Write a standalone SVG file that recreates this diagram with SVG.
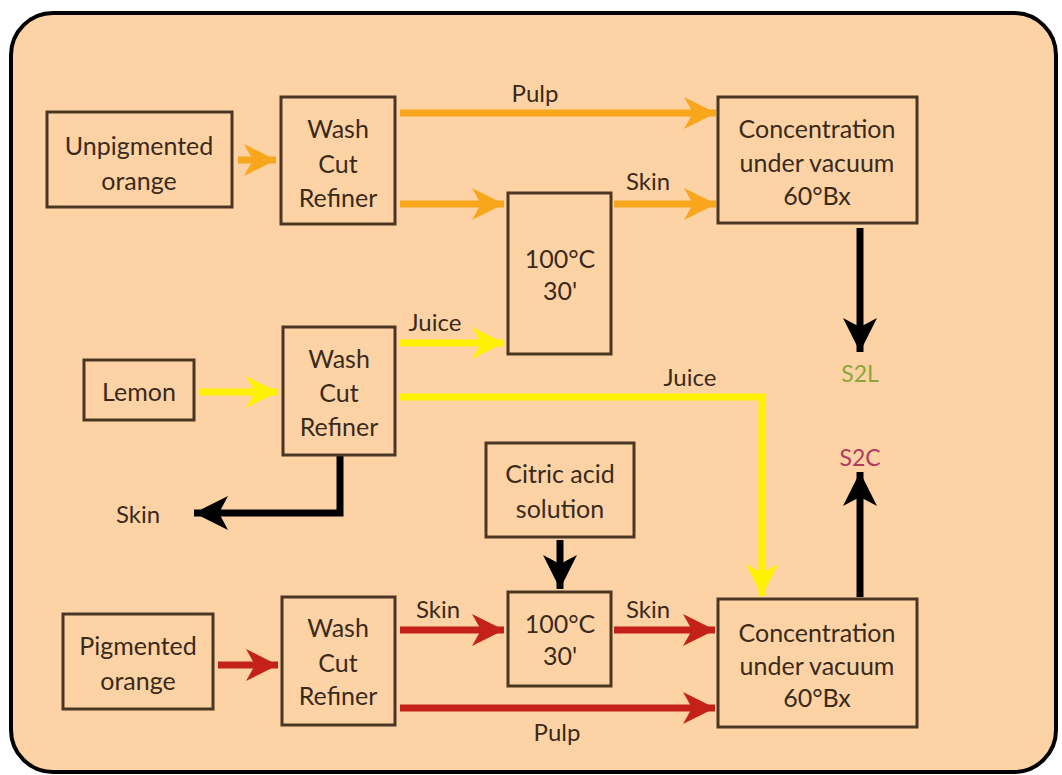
<svg xmlns="http://www.w3.org/2000/svg" width="1062" height="775" viewBox="0 0 1062 775">
<defs>
<style>
.box{fill:none;stroke:#4a3622;stroke-width:3}
.t{font-family:Lato,"Open Sans",sans-serif;font-size:25px;fill:#3a2a1a;text-anchor:middle;dominant-baseline:central}
.l{font-family:Lato,"Open Sans",sans-serif;font-size:24px;fill:#3a2a1a;text-anchor:middle;dominant-baseline:central}
.or{stroke:#f8a61c;stroke-width:7;fill:none}
.ye{stroke:#fff200;stroke-width:7;fill:none}
.rd{stroke:#c42118;stroke-width:7;fill:none}
.bk{stroke:#000;stroke-width:7;fill:none}
</style>
<marker id="mo" viewBox="0 0 32 32" refX="32" refY="16" markerWidth="32" markerHeight="32" markerUnits="userSpaceOnUse" orient="auto"><path d="M0,0 L32,16 L0,32 L9,16 Z" fill="#f8a61c"/></marker>
<marker id="my" viewBox="0 0 32 32" refX="32" refY="16" markerWidth="32" markerHeight="32" markerUnits="userSpaceOnUse" orient="auto"><path d="M0,0 L32,16 L0,32 L9,16 Z" fill="#fff200"/></marker>
<marker id="mr" viewBox="0 0 32 32" refX="32" refY="16" markerWidth="32" markerHeight="32" markerUnits="userSpaceOnUse" orient="auto"><path d="M0,0 L32,16 L0,32 L9,16 Z" fill="#c42118"/></marker>
<marker id="mb" viewBox="0 0 34 34" refX="34" refY="17" markerWidth="34" markerHeight="34" markerUnits="userSpaceOnUse" orient="auto"><path d="M0,0 L34,17 L0,34 L9,17 Z" fill="#000"/></marker>
</defs>
<rect x="11" y="13" width="1045" height="759" rx="42" ry="42" fill="#fdd3a6" stroke="#000" stroke-width="4"/>
<g id="connectors">
<line class="or" x1="238" y1="160" x2="276" y2="160" marker-end="url(#mo)"/>
<line class="or" x1="400" y1="113" x2="716" y2="113" marker-end="url(#mo)"/>
<line class="or" x1="400" y1="204" x2="504" y2="204" marker-end="url(#mo)"/>
<line class="or" x1="614" y1="204" x2="716" y2="204" marker-end="url(#mo)"/>
<line class="bk" x1="860" y1="228" x2="860" y2="352" marker-end="url(#mb)"/>
<line class="bk" x1="860" y1="597" x2="860" y2="472" marker-end="url(#mb)"/>
<line class="ye" x1="200" y1="392" x2="278" y2="392" marker-end="url(#my)"/>
<line class="ye" x1="400" y1="343" x2="504" y2="343" marker-end="url(#my)"/>
<polyline class="ye" points="400,397 762,397 762,596" marker-end="url(#my)"/>
<polyline class="bk" points="340,455 340,513 194,513" marker-end="url(#mb)"/>
<line class="bk" x1="560" y1="540" x2="560" y2="589" marker-end="url(#mb)"/>
<line class="rd" x1="218" y1="665" x2="278" y2="665" marker-end="url(#mr)"/>
<line class="rd" x1="400" y1="630" x2="504" y2="630" marker-end="url(#mr)"/>
<line class="rd" x1="614" y1="630" x2="715" y2="630" marker-end="url(#mr)"/>
<line class="rd" x1="400" y1="708" x2="715" y2="708" marker-end="url(#mr)"/>
</g>
<g id="labels">
<text class="l" x="535" y="92">Pulp</text>
<text class="l" x="648" y="180">Skin</text>
<text class="l" x="435" y="321">Juice</text>
<text class="l" x="690" y="376">Juice</text>
<text class="l" x="138" y="513">Skin</text>
<text class="l" x="438" y="608">Skin</text>
<text class="l" x="648" y="608">Skin</text>
<text class="l" x="557" y="731">Pulp</text>
<text class="l" x="860" y="373" style="fill:#8aa83a;font-size:23px">S2L</text>
<text class="l" x="860" y="457" style="fill:#b23a5c;font-size:23px">S2C</text>
</g>
<g id="unpigmented-orange"><rect class="box" x="47" y="112" width="185" height="95"/><text class="t" x="139" y="145">Unpigmented</text><text class="t" x="139" y="180">orange</text></g>
<g id="wcr1"><rect class="box" x="281" y="97" width="114" height="127"/><text class="t" x="338" y="128">Wash</text><text class="t" x="338" y="163">Cut</text><text class="t" x="338" y="197">Refiner</text></g>
<g id="conc1"><rect class="box" x="718" y="97" width="199" height="126"/><text class="t" x="817" y="128">Concentration</text><text class="t" x="817" y="162">under vacuum</text><text class="t" x="817" y="195">60°Bx</text></g>
<g id="heat1"><rect class="box" x="508" y="193" width="103" height="161"/><text class="t" x="560" y="258">100°C</text><text class="t" x="560" y="290">30'</text></g>
<g id="lemon"><rect class="box" x="84" y="360" width="110" height="60"/><text class="t" x="139" y="391">Lemon</text></g>
<g id="wcr2"><rect class="box" x="283" y="327" width="112" height="128"/><text class="t" x="339" y="358">Wash</text><text class="t" x="339" y="392">Cut</text><text class="t" x="339" y="426">Refiner</text></g>
<g id="citric"><rect class="box" x="486" y="443" width="148" height="94"/><text class="t" x="560" y="473">Citric acid</text><text class="t" x="560" y="508">solution</text></g>
<g id="heat2"><rect class="box" x="508" y="592" width="103" height="94"/><text class="t" x="560" y="623">100°C</text><text class="t" x="560" y="655">30'</text></g>
<g id="pigmented-orange"><rect class="box" x="63" y="614" width="150" height="95"/><text class="t" x="138" y="645">Pigmented</text><text class="t" x="138" y="680">orange</text></g>
<g id="wcr3"><rect class="box" x="282" y="597" width="113" height="128"/><text class="t" x="338" y="627">Wash</text><text class="t" x="338" y="662">Cut</text><text class="t" x="338" y="695">Refiner</text></g>
<g id="conc2"><rect class="box" x="718" y="599" width="199" height="128"/><text class="t" x="817" y="632">Concentration</text><text class="t" x="817" y="665">under vacuum</text><text class="t" x="817" y="697">60°Bx</text></g>
</svg>
